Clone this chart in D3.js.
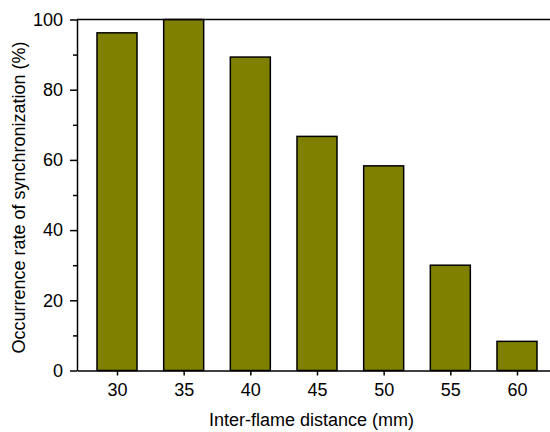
<!DOCTYPE html>
<html>
<head>
<meta charset="utf-8">
<script src="https://cdn.jsdelivr.net/npm/d3@7"></script>
<style>
  html, body { margin: 0; padding: 0; background: #fff; }
  svg { display: block; }
</style>
</head>
<body>
<svg id="chart" width="550" height="432"></svg>
<script>
const distances = [30, 35, 40, 45, 50, 55, 60];
const rates = [96.2, 100, 89.3, 66.7, 58.3, 30, 8.3];
const yTicks = [0, 20, 40, 60, 80, 100];
const yMinorTicks = [10, 30, 50, 70, 90];

const plotLeft = 77;
const plotTop = 19.5;
const plotBottom = 370.5;

const svg = d3.select("#chart");

// x: plot continues past the right edge of the picture
const x = d3.scaleLinear().domain([27, 63]).range([plotLeft, plotLeft + 36 * 13.333]);
const y = d3.scaleLinear().domain([0, 100]).range([plotBottom, plotTop]);

const font = "Arial, 'Liberation Sans', sans-serif";
const fontSize = 18;

const data = distances.map((d, i) => ({ dist: d, rate: rates[i] }));

// bars
svg.append("g")
  .attr("id", "bars")
  .selectAll("rect")
  .data(data)
  .join("rect")
  .attr("x", (d) => x(d.dist - 1.5))
  .attr("width", (d) => x(d.dist + 1.5) - x(d.dist - 1.5))
  .attr("y", (d) => y(d.rate))
  .attr("height", (d) => y(0) - y(d.rate))
  .attr("fill", "#808000")
  .attr("stroke", "#000")
  .attr("stroke-width", 1.5);

// y axis
svg.append("g")
  .attr("transform", `translate(${plotLeft},0)`)
  .call(d3.axisLeft(y).tickValues(yTicks).tickSize(7).tickPadding(7).tickSizeOuter(0))
  .call((g) => g.selectAll("text").attr("font-size", fontSize).attr("font-family", font).attr("fill", "#000"))
  .call((g) => g.selectAll("line, path").attr("stroke", "#000").attr("stroke-width", 1.5));

svg.append("g")
  .attr("transform", `translate(${plotLeft},0)`)
  .call(d3.axisLeft(y).tickValues(yMinorTicks).tickSize(4).tickFormat("").tickSizeOuter(0))
  .call((g) => g.select(".domain").remove())
  .call((g) => g.selectAll("line").attr("stroke", "#000").attr("stroke-width", 1.5));

// x axis
svg.append("g")
  .attr("transform", `translate(0,${plotBottom})`)
  .call(d3.axisBottom(x).tickValues(distances).tickSize(5).tickPadding(8).tickSizeOuter(0))
  .call((g) => g.selectAll("text").attr("font-size", fontSize).attr("font-family", font).attr("fill", "#000"))
  .call((g) => g.selectAll("line, path").attr("stroke", "#000").attr("stroke-width", 1.5));

// top frame line
svg.append("line")
  .attr("x1", x(27))
  .attr("x2", x(63))
  .attr("y1", y(100))
  .attr("y2", y(100))
  .attr("stroke", "#000")
  .attr("stroke-width", 1.5);

// axis titles
svg.append("text")
  .attr("x", 311.5)
  .attr("y", 426)
  .attr("text-anchor", "middle")
  .attr("font-family", font)
  .attr("font-size", fontSize)
  .text("Inter-flame distance (mm)");

svg.append("text")
  .attr("transform", `translate(25,197.5) rotate(-90)`)
  .attr("text-anchor", "middle")
  .attr("font-family", font)
  .attr("font-size", fontSize)
  .text("Occurrence rate of synchronization (%)");
</script>
</body>
</html>
